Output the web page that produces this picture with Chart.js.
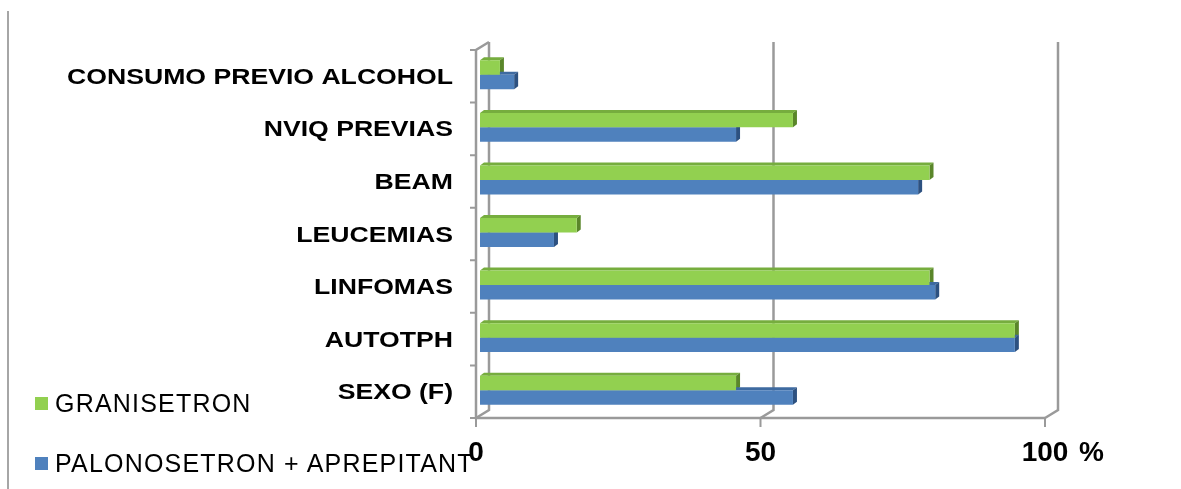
<!DOCTYPE html>
<html>
<head>
<meta charset="utf-8">
<script src="https://cdn.jsdelivr.net/npm/chart.js@4.4.1/dist/chart.umd.min.js"></script>
<style>
  html, body { margin: 0; padding: 0; background: #fff; }
  #wrap { position: relative; width: 1181px; height: 489px; overflow: hidden; }
  #c { position: absolute; left: 0; top: 0; }
  #legend { position: absolute; left: 35px; top: 0; font-family: "Liberation Sans", Arial, sans-serif;
            font-size: 25px; letter-spacing: 1.2px; color: #000; }
  .item { position: absolute; left: 0; white-space: nowrap; display: flex; align-items: center; line-height: 30px; }
  .sw { width: 13px; height: 13px; margin-right: 7px; flex: none; }
</style>
</head>
<body>
<div id="wrap">
  <canvas id="c" width="1181" height="489"></canvas>
  <div id="legend"></div>
</div>
<script>
// Categories, top to bottom
const categories = ['CONSUMO PREVIO ALCOHOL', 'NVIQ PREVIAS', 'BEAM', 'LEUCEMIAS', 'LINFOMAS', 'AUTOTPH', 'SEXO (F)'];
// Percentages per group
const granisetron = [3.5, 55, 79, 17, 79, 94, 45];
const palonosetronAprepitant = [6, 45, 77, 13, 80, 94, 55];
const seriesNames = ['GRANISETRON', 'PALONOSETRON + APREPITANT'];
const xTicks = [0, 50, 100];
const xUnit = '%';

const FONT = '"Liberation Sans", Arial, sans-serif';
const GREEN = '#92d050', GREEN_TOP = '#76ad3e', GREEN_SIDE = '#5a862a';
const BLUE = '#4f81bd', BLUE_TOP = '#3e6aa0', BLUE_SIDE = '#2d5180';

// depth offsets of the front edge and back wall relative to the bar plane
const FRONT = -4, BACK = 9, RISE = 8;
// category labels use a slightly widened bold face
const LABEL_STRETCH = 1.21;

// Walls, floor, bar extrusion and category labels for the pseudo-3D look
const depthPlugin = {
  id: 'depth',
  beforeDraw(chart) {
    const ctx = chart.ctx;
    ctx.save();
    ctx.strokeStyle = '#a6a6a6';
    ctx.lineWidth = 2;
    ctx.beginPath();
    ctx.moveTo(8, 11);
    ctx.lineTo(8, 489);
    ctx.stroke();
    ctx.restore();
  },
  beforeDatasetsDraw(chart) {
    const { ctx, chartArea: a, scales: { x, y } } = chart;
    ctx.save();
    ctx.strokeStyle = '#9a9a9a';
    ctx.lineWidth = 2.5;
    // back wall grid lines running down to the floor
    xTicks.forEach(v => {
      const px = x.getPixelForValue(v);
      ctx.beginPath();
      ctx.moveTo(px + BACK, a.top - RISE);
      ctx.lineTo(px + BACK, a.bottom - RISE);
      ctx.lineTo(px + FRONT, a.bottom);
      ctx.stroke();
    });
    // side wall front edge and floor front edge
    const x0 = x.getPixelForValue(0);
    const x100 = x.getPixelForValue(100);
    ctx.beginPath();
    ctx.moveTo(x0 + BACK, a.top - RISE);
    ctx.lineTo(x0 + FRONT, a.top);
    ctx.lineTo(x0 + FRONT, a.bottom);
    ctx.lineTo(x100 + FRONT, a.bottom);
    ctx.stroke();
    // category tick marks
    ctx.lineWidth = 2;
    ctx.beginPath();
    for (let i = 0; i <= categories.length; i++) {
      const yy = y.getPixelForValue(i - 0.5);
      ctx.moveTo(x0 + FRONT - 6, yy);
      ctx.lineTo(x0 + FRONT, yy);
    }
    // value tick marks on the floor
    xTicks.forEach(v => {
      const px = x.getPixelForValue(v) + FRONT;
      ctx.moveTo(px, a.bottom);
      ctx.lineTo(px, a.bottom + 9);
    });
    ctx.stroke();

    // category labels
    ctx.fillStyle = '#000';
    ctx.font = 'bold 22px ' + FONT;
    ctx.textAlign = 'right';
    ctx.textBaseline = 'middle';
    categories.forEach((c, i) => {
      ctx.save();
      ctx.translate(x0 - 27, y.getPixelForValue(i) + 1.5);
      ctx.scale(LABEL_STRETCH, 1);
      ctx.fillText(c, 0, 0);
      ctx.restore();
    });
    ctx.restore();

    // bar extrusion (top and end faces), bars are drawn over them
    ctx.save();
    ctx.translate(0, -1.5);
    const dx = 4, dy = 3;
    chart.data.datasets.forEach((ds, di) => {
      const meta = chart.getDatasetMeta(di);
      meta.data.forEach(bar => {
        const p = bar.getProps(['x', 'y', 'base', 'height'], true);
        const t = p.y - p.height / 2, b = p.y + p.height / 2;
        ctx.fillStyle = ds.topColor;
        ctx.beginPath();
        ctx.moveTo(p.base, t);
        ctx.lineTo(p.base + dx, t - dy);
        ctx.lineTo(p.x + dx, t - dy);
        ctx.lineTo(p.x, t);
        ctx.closePath();
        ctx.fill();
        ctx.fillStyle = ds.sideColor;
        ctx.beginPath();
        ctx.moveTo(p.x, t);
        ctx.lineTo(p.x + dx, t - dy);
        ctx.lineTo(p.x + dx, b - dy);
        ctx.lineTo(p.x, b);
        ctx.closePath();
        ctx.fill();
      });
    });
  },
  afterDatasetsDraw(chart) {
    chart.ctx.restore();
  },
  afterDraw(chart) {
    const { ctx, chartArea: a, scales: { x } } = chart;
    ctx.save();
    ctx.fillStyle = '#000';
    ctx.font = 'bold 28px ' + FONT;
    ctx.textAlign = 'left';
    ctx.textBaseline = 'middle';
    ctx.fillText(xUnit, x.getPixelForValue(100) + 30, a.bottom + 35);
    ctx.restore();
  }
};

const chart = new Chart(document.getElementById('c'), {
  type: 'bar',
  data: {
    labels: categories,
    datasets: [
      { label: seriesNames[0], data: granisetron, backgroundColor: GREEN, topColor: GREEN_TOP, sideColor: GREEN_SIDE },
      { label: seriesNames[1], data: palonosetronAprepitant, backgroundColor: BLUE, topColor: BLUE_TOP, sideColor: BLUE_SIDE }
    ]
  },
  options: {
    indexAxis: 'y',
    responsive: false,
    animation: false,
    devicePixelRatio: 1,
    categoryPercentage: 0.55,
    barPercentage: 1,
    layout: { padding: { left: 0, top: 50, right: 132, bottom: 0 } },
    plugins: { legend: { display: false }, tooltip: { enabled: false } },
    scales: {
      x: {
        min: 0, max: 100,
        afterBuildTicks: s => { s.ticks = xTicks.map(v => ({ value: v })); },
        afterFit: s => { s.height = 71; },
        grid: { display: false, drawTicks: false },
        border: { display: false },
        ticks: { color: '#000', padding: 18, labelOffset: FRONT, maxRotation: 0,
                 font: { family: FONT, size: 28, weight: 'bold' } }
      },
      y: {
        afterFit: s => { s.width = 480; },
        grid: { display: false, drawTicks: false },
        border: { display: false },
        ticks: { display: false }
      }
    }
  },
  plugins: [depthPlugin]
});

// legend built from the datasets
const legend = document.getElementById('legend');
const legendTops = [388, 448];
chart.data.datasets.forEach((ds, i) => {
  const item = document.createElement('div');
  item.className = 'item';
  item.style.top = legendTops[i] + 'px';
  const sw = document.createElement('span');
  sw.className = 'sw';
  sw.style.background = ds.backgroundColor;
  const tx = document.createElement('span');
  tx.textContent = ds.label;
  item.appendChild(sw);
  item.appendChild(tx);
  legend.appendChild(item);
});
</script>
</body>
</html>
